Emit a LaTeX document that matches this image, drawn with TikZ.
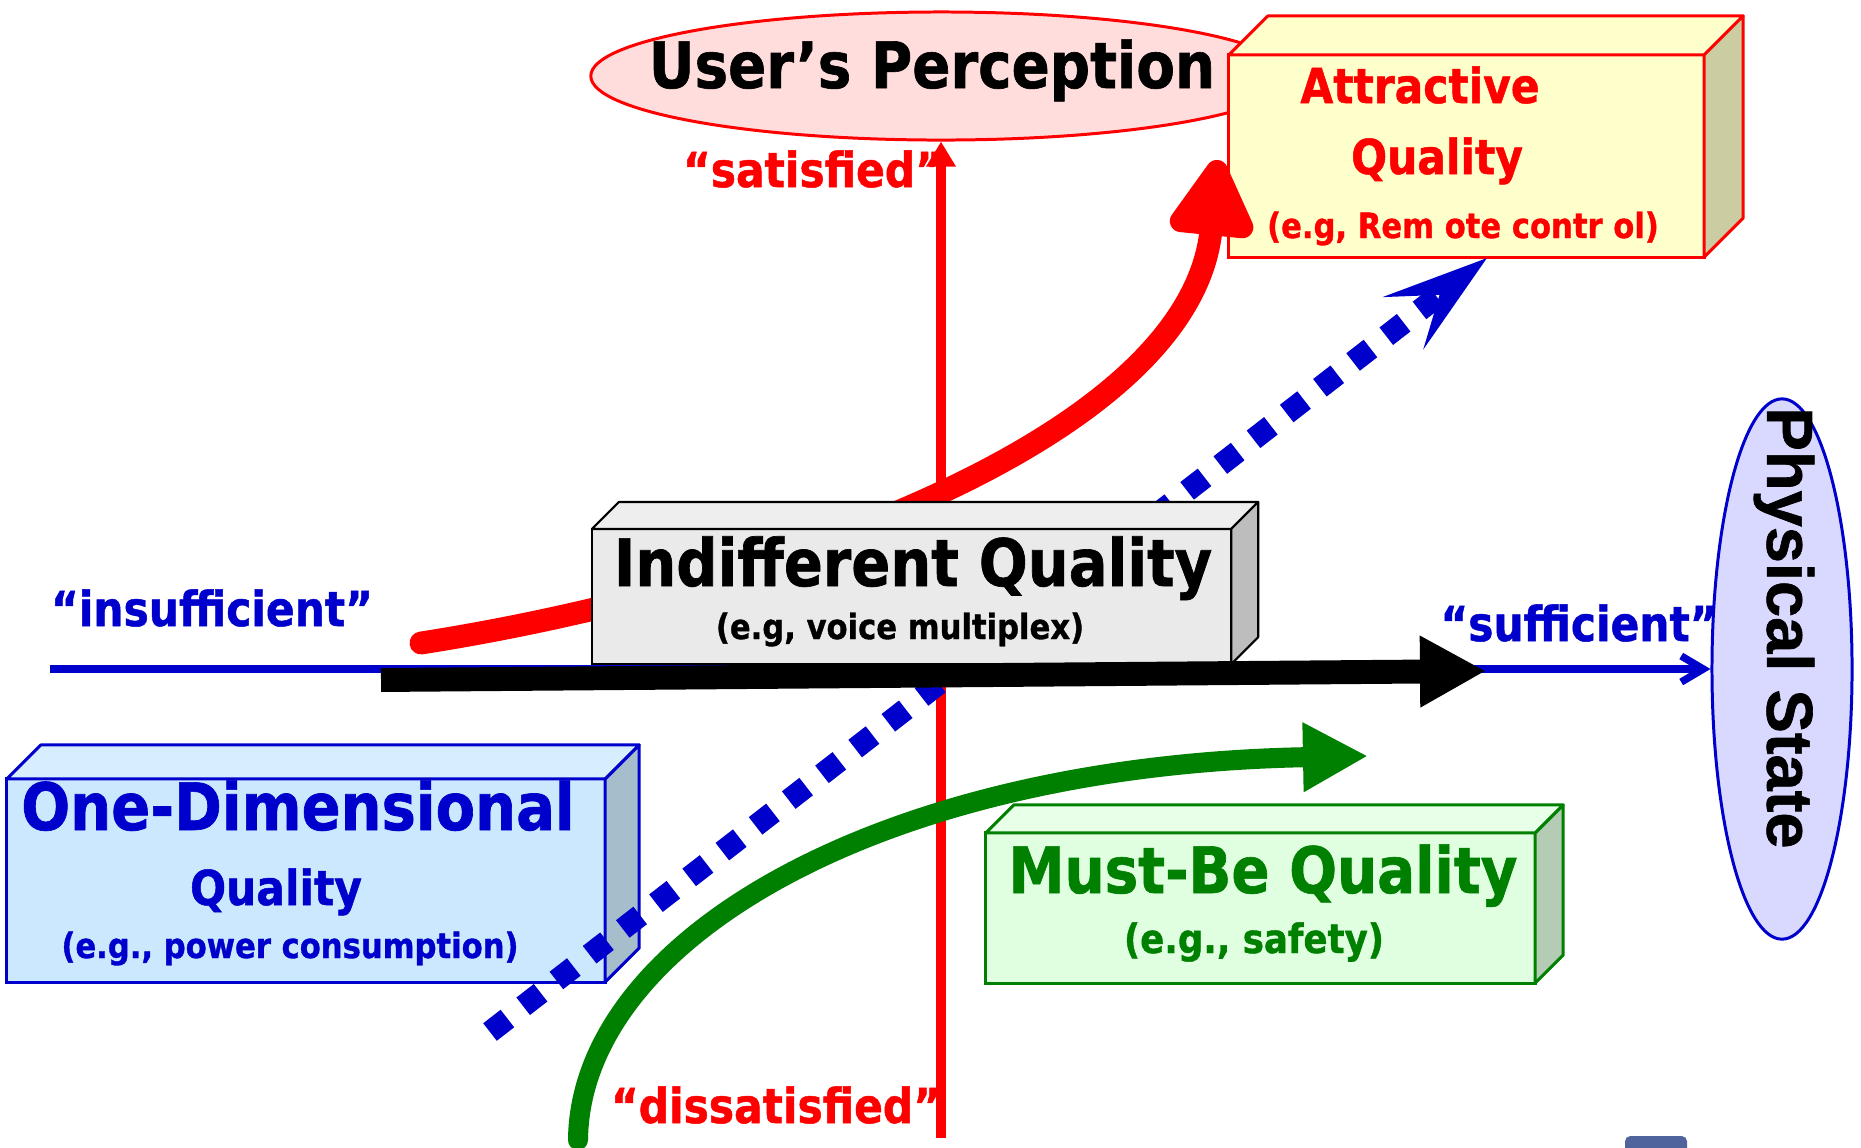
\documentclass[tikz,border=0pt]{standalone}
\usepackage{fontspec}
\newfontfamily\tahfont{DejaVu Sans}[FakeStretch=0.88,BoldFeatures={FakeBold=1}]
\newfontfamily\arifont{Liberation Sans}[BoldFeatures={FakeBold=1}]
\usetikzlibrary{arrows.meta,
	calc,
	shapes.geometric}

\definecolor{kred}{HTML}{FF0000}
\definecolor{kblue}{HTML}{0000CC}
\definecolor{kgreen}{HTML}{008000}
\definecolor{pinkfill}{HTML}{FFDDDD}
\definecolor{physfill}{HTML}{D9D9FF}
\definecolor{attrfront}{HTML}{FFFFCC}
\definecolor{attrside}{HTML}{CCCCA3}
\definecolor{indfront}{HTML}{EAEAEA}
\definecolor{indtop}{HTML}{EEEEEE}
\definecolor{indside}{HTML}{BDBDBD}
\definecolor{onefront}{HTML}{CCE8FF}
\definecolor{onetop}{HTML}{D6EEFF}
\definecolor{oneside}{HTML}{A6BDCC}
\definecolor{mustfront}{HTML}{E0FFE0}
\definecolor{musttop}{HTML}{E8FFE8}
\definecolor{mustside}{HTML}{B3CCB3}
\definecolor{bgleft}{HTML}{E2E2E2}
\definecolor{bgright}{HTML}{DADADA}
\definecolor{navicon}{HTML}{50649C}

\pgfdeclarehorizontalshading{slidebg}{100bp}{color(0bp)=(bgleft); color(18bp)=(white); color(76bp)=(white); color(100bp)=(bgright)}

% top and side faces of a box whose front face is node #1
\newcommand{\boxfaces}[5]{%
  \draw[#3,fill=#4,line width=0.85pt,line join=round] (#1.north west) -- ++(#2,-#2) -- ($(#1.north east)+(#2,-#2)$) -- (#1.north east) -- cycle;
  \draw[#3,fill=#5,line width=0.85pt,line join=round] (#1.north east) -- ++(#2,-#2) -- ($(#1.south east)+(#2,-#2)$) -- (#1.south east) -- cycle;}

\begin{document}
\begin{tikzpicture}[x=0.01cm,y=-0.01cm]
    \tikzstyle{qbox}=[rectangle,draw,inner sep=0pt,outer sep=0pt,line width=0.85pt]
    \tikzstyle{bigtxt}=[anchor=base,font=\tahfont\bfseries\fontsize{18.2}{20}\selectfont]
    \tikzstyle{midtxt}=[anchor=base,font=\tahfont\bfseries\fontsize{13.7}{15}\selectfont]
    \tikzstyle{subtxt}=[anchor=base,font=\tahfont\bfseries\fontsize{9.9}{11}\selectfont]
    \useasboundingbox (0,0) rectangle (1861,1147);
    \shade[shading=slidebg] (0,0) rectangle (1861,1147);
    \fill[navicon,rounded corners=1.5pt] (1625,1136) rectangle (1687,1165);

    \node[ellipse,draw=kred,fill=pinkfill,line width=0.85pt,inner sep=0pt,minimum width=7cm,minimum height=1.28cm] (upe) at (941,76) {};
    \node[ellipse,draw=kblue,fill=physfill,line width=0.85pt,inner sep=0pt,minimum width=1.4cm,minimum height=5.4cm] (phys) at (1782,669) {};

    \node[qbox,draw=kred,fill=attrfront,minimum width=4.75cm,minimum height=2.02cm] (attr) at (1466.5,156) {};
    \boxfaces{attr}{39}{kred}{attrfront}{attrside}
    \node[qbox,draw=kblue,fill=onefront,minimum width=5.98cm,minimum height=2.03cm] (one) at (306,880.5) {};
    \boxfaces{one}{34}{kblue}{onetop}{oneside}

    \coordinate (vbot) at (941,1138);
    \coordinate (rstart) at (421,643);
    \coordinate (rend) at (1218,160);
    \coordinate (dstart) at (490,1032);
    \coordinate (dend) at (1487,258);
    \coordinate (axstart) at (50,669);
    \coordinate (bstart) at (381,680);
    \coordinate (bend) at (1486,671);
    \coordinate (gstart) at (578,1140);
    \coordinate (gend) at (1368,756);

    \draw[kred,line width=2.7pt,-{Triangle[length=0.25cm,width=0.28cm]}] (vbot) -- (upe.south);
    \draw[kred,line width=6.5pt,line cap=round,-{Triangle[length=0.88cm,width=0.93cm,round]}] (rstart) .. controls (760,590) and (1190,440) .. (rend);
    \draw[kblue,line width=6.3pt,dash pattern=on 0.22cm off 0.2cm,-{Stealth[length=1.05cm,width=0.65cm,inset=0.45cm]}] (dstart) -- (dend);
    \draw[kblue,line width=2.1pt,-{Straight Barb[length=0.22cm,width=0.26cm]}] (axstart) -- (phys.west);

    \node[qbox,draw=black,fill=indfront,line width=0.6pt,minimum width=6.39cm,minimum height=1.35cm] (ind) at (911.5,596.5) {};
    \draw[black,fill=indtop,line width=0.6pt,line join=round] (ind.north west) -- ++(27,-27) -- ($(ind.north east)+(27,-27)$) -- (ind.north east) -- cycle;
    \draw[black,fill=indside,line width=0.6pt,line join=round] (ind.north east) -- ++(27,-27) -- ($(ind.south east)+(27,-27)$) -- (ind.south east) -- cycle;
    \draw[black,line width=6.8pt,-{Triangle[length=0.66cm,width=0.67cm]}] (bstart) -- (bend);

    \draw[kgreen,line width=5.7pt,line cap=round,-{Triangle[length=0.65cm,width=0.65cm]}] (gstart) .. controls (580,940) and (880,765) .. (gend);
    \node[qbox,draw=kgreen,fill=mustfront,minimum width=5.49cm,minimum height=1.5cm] (must) at (1260.5,908) {};
    \boxfaces{must}{28}{kgreen}{musttop}{mustside}

    % texts
    \node[bigtxt] (upelbl) at (932,88) {User’s Perception};
    \node[font=\arifont\bfseries\fontsize{18.5}{20}\selectfont,rotate=-90] (physlbl) at (1784,628) {Physical State};
    \node[midtxt,text=kred] (sat) at (813,187) {“satisfied”};
    \node[midtxt,text=kred] (dissat) at (776,1123) {“dissatisfied”};
    \node[midtxt,text=kblue] (insuf) at (212,626) {“insufficient”};
    \node[midtxt,text=kblue] (suf) at (1579,641) {“sufficient”};

    \node[midtxt,text=kred] (attr1) at (1420,103) {Attractive};
    \node[midtxt,text=kred] (attr2) at (1437,174) {Quality};
    \node[subtxt,text=kred] (attr3) at (1463,238) {(e.g, Rem ote contr ol)};

    \node[bigtxt,font=\tahfont\bfseries\fontsize{18.6}{20}\selectfont] (ind1) at (913,586) {Indifferent Quality};
    \node[subtxt] (ind2) at (900,639) {(e.g, voice multiplex)};

    \node[bigtxt,text=kblue,font=\tahfont\bfseries\fontsize{18.6}{20}\selectfont] (one1) at (298,830) {One-Dimensional};
    \node[midtxt,text=kblue] (one2) at (276,905) {Quality};
    \node[subtxt,text=kblue] (one3) at (290,958) {(e.g., power consumption)};

    \node[bigtxt,text=kgreen] (must1) at (1263,893) {Must-Be Quality};
    \node[subtxt,text=kgreen,font=\tahfont\bfseries\fontsize{11.5}{13}\selectfont] (must2) at (1254,953) {(e.g., safety)};
\end{tikzpicture}
\end{document}
